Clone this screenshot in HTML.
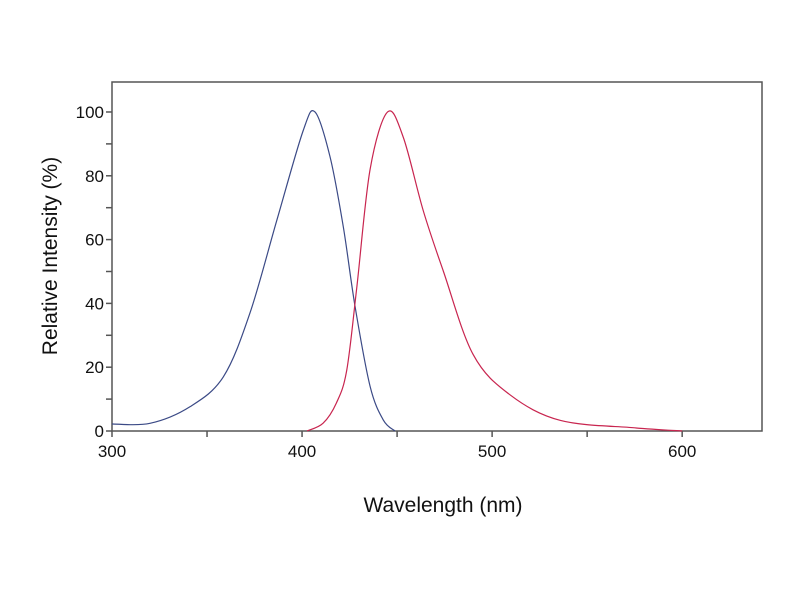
<!DOCTYPE html>
<html><head><meta charset="utf-8"><style>
html,body{margin:0;padding:0;background:#fff;}
svg{display:block;font-family:"Liberation Sans",sans-serif;}
</style></head><body>
<svg id="chart" width="800" height="600"></svg>
<script>
const excitationX=[300,320,341,358.6,372.6,386.7,400.5,406.8,414.7,421.7,427.9,435.8,442.8,448.9];
const excitationY=[2.2,2.4,7.6,17,37,66,94,100,86,64,39,14,3.4,0];
const emissionX=[402.6,411,418,423.5,428.8,435.8,445,453.3,463.8,474.4,490,509.5,536,575,600];
const emissionY=[0,2.4,8.7,19,45,82,100,92,69,50,24,11.3,3.3,1,0];
const xTicks=[300,350,400,450,500,550,600];
const xLabels=["300","","400","","500","","600"];
const yTicks=[0,10,20,30,40,50,60,70,80,90,100];
const yLabels=["0","","20","","40","","60","","80","","100"];
const NS="http://www.w3.org/2000/svg";
const svg=document.getElementById('chart');
const L=112,R=762,T=82,B=431;
const xMin=300,xMax=642,yMin=0,yMax=109.4;
const sx=v=>L+(v-xMin)/(xMax-xMin)*(R-L);
const sy=v=>B-(v-yMin)/(yMax-yMin)*(B-T);
function mk(tag,attrs,parent){const e=document.createElementNS(NS,tag);for(const k in attrs)e.setAttribute(k,attrs[k]);(parent||svg).appendChild(e);return e;}
const frame=mk('rect',{x:L,y:T,width:R-L,height:B-T,fill:'none',stroke:'#555','stroke-width':1.5});


xTicks.forEach((t,i)=>{
  const ln=mk('line',{x1:sx(t),x2:sx(t),y1:B,y2:B+6,stroke:'#555','stroke-width':1.5});
  
  
  if(xLabels[i]){const tx=mk('text',{x:sx(t),y:B+26,'text-anchor':'middle','font-size':17,fill:'#111'});tx.textContent=xLabels[i];
  
  }
});
yTicks.forEach((t,i)=>{
  const ln=mk('line',{x1:L-6,x2:L,y1:sy(t),y2:sy(t),stroke:'#555','stroke-width':1.5});
  
  
  if(yLabels[i]){const tx=mk('text',{x:L-8,y:sy(t)+6,'text-anchor':'end','font-size':17,fill:'#111'});tx.textContent=yLabels[i];
  
  }
});
function curve(xs,ys,color,name){
  const pts=xs.map((x,i)=>[sx(x),sy(ys[i])]);
  let d='M'+pts[0][0]+','+pts[0][1];
  for(let i=0;i<pts.length-1;i++){
    const p0=pts[i-1]||pts[i],p1=pts[i],p2=pts[i+1],p3=pts[i+2]||p2;
    const c1x=p1[0]+(p2[0]-p0[0])/6,c1y=p1[1]+(p2[1]-p0[1])/6;
    const c2x=p2[0]-(p3[0]-p1[0])/6,c2y=p2[1]-(p3[1]-p1[1])/6;
    d+=' C'+c1x+','+c1y+' '+c2x+','+c2y+' '+p2[0]+','+p2[1];
  }
  const p=mk('path',{d:d,fill:'none',stroke:color,'stroke-width':1.2});
  
  
}
curve(excitationX,excitationY,'#3b4a86','excitation-line');
curve(emissionX,emissionY,'#c8254f','emission-line');
const xt=mk('text',{x:443,y:512,'text-anchor':'middle','font-size':21,fill:'#111'});xt.textContent='Wavelength (nm)';


const yt=mk('text',{x:0,y:0,'text-anchor':'middle','font-size':21,fill:'#111',transform:'translate(57,256) rotate(-90)'});yt.textContent='Relative Intensity (%)';


</script>
</body></html>
